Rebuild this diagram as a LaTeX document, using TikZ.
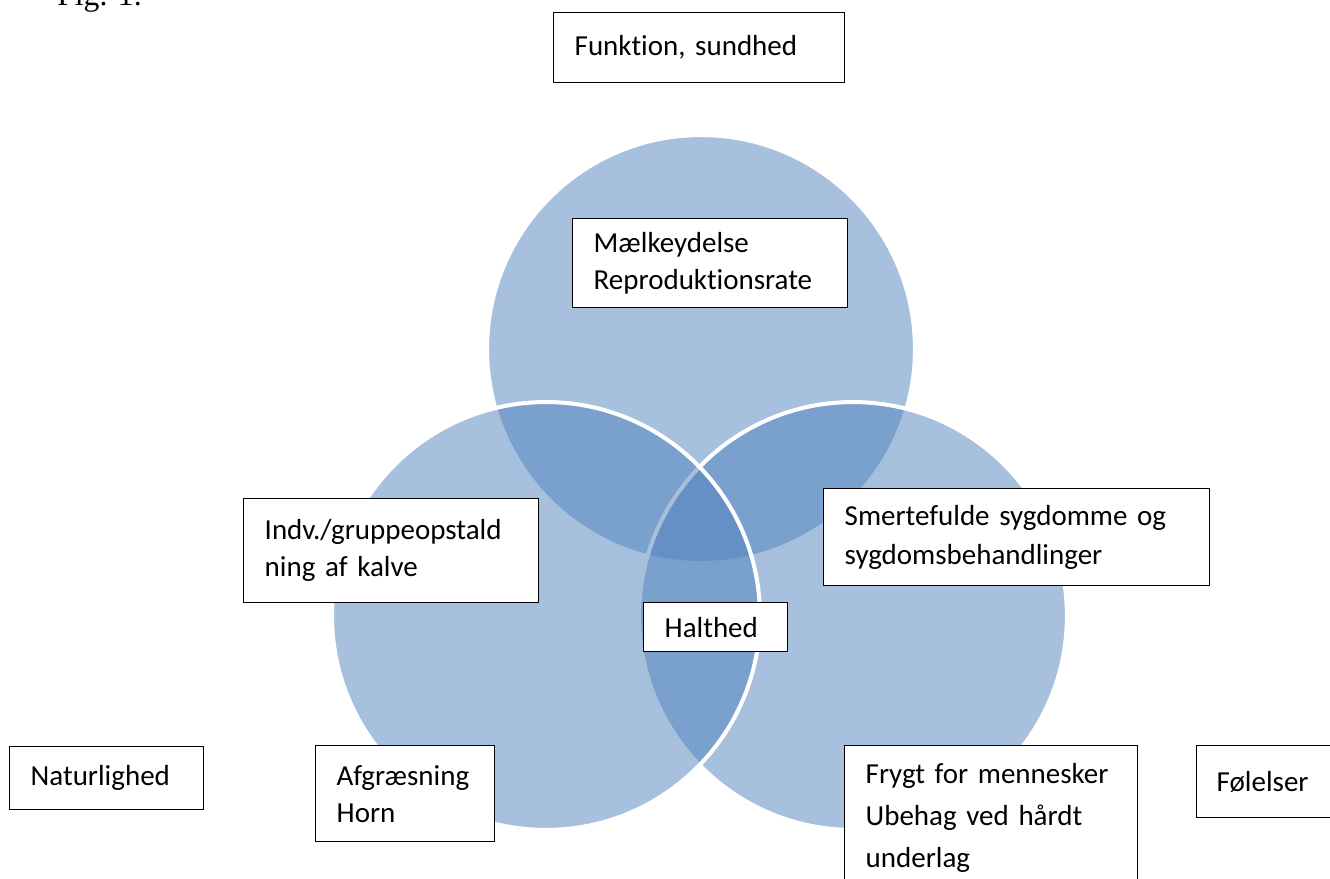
\documentclass[tikz,border=0pt]{standalone}
\usepackage{fontspec}
\setmainfont{Carlito}[RawFeature=-liga]
\newfontfamily\figfont{Liberation Serif}
\definecolor{vennblue}{HTML}{4F81BD}

\begin{document}
\begin{tikzpicture}[
    x=0.02cm, y=-0.02cm,
    venn/.style={circle, fill=vennblue, fill opacity=0.5, draw=white, draw opacity=1, line width=2.3pt, minimum size=8.56cm, inner sep=0pt},
    infobox/.style={rectangle, draw=black, line width=0.8pt, fill=white, anchor=north west, align=left, inner xsep=0.42cm, inner ysep=0pt, font=\fontsize{16.5}{21}\selectfont}
]
\useasboundingbox (0,0) rectangle (1330,879);
\clip (0,0) rectangle (1330,879);

% Caption
\node[anchor=base west, inner sep=0pt, font=\figfont\fontsize{18}{20}\selectfont] (fig) at (57,6) {Fig. 1.};

% Venn circles
\node[venn] (top) at (701,349) {};
\node[venn] (right) at (853,616) {};
\node[venn] (left) at (546,616) {};

% Text boxes
\node[infobox, minimum width=5.82cm, minimum height=1.40cm, text width=4.98cm] (funktion) at (553,12) {Funktion, sundhed};
\node[infobox, minimum width=5.50cm, minimum height=1.78cm, text width=4.66cm] (maelk) at (572,218) {Mælkeydelse\\Reproduktionsrate};
\node[infobox, minimum width=5.90cm, minimum height=2.08cm, text width=5.06cm] (opstald) at (243,498) {Indv./gruppeopstald\\ning af kalve};
\node[infobox, minimum width=7.72cm, minimum height=1.94cm, text width=6.88cm, font=\fontsize{16.5}{22}\selectfont] (smerte) at (823,488) {Smertefulde sygdomme og\\sygdomsbehandlinger};
\node[infobox, minimum width=2.88cm, minimum height=0.98cm, text width=2.04cm] (halthed) at (643,602) {Halthed};
\node[infobox, minimum width=3.88cm, minimum height=1.26cm, text width=3.04cm] (natur) at (9,746) {Naturlighed};
\node[infobox, minimum width=3.58cm, minimum height=1.92cm, text width=2.74cm] (afgraes) at (315,745) {Afgræsning\\Horn};
\node[infobox, minimum width=5.86cm, minimum height=2.90cm, text width=5.02cm, font=\fontsize{16.5}{24}\selectfont] (frygt) at (844,745) {Frygt for mennesker\\Ubehag ved hårdt\\underlag};
\node[infobox, minimum width=3.00cm, minimum height=1.44cm, text width=2.20cm, inner xsep=0.38cm] (foelelser) at (1196,745) {Følelser};

\end{tikzpicture}
\end{document}
